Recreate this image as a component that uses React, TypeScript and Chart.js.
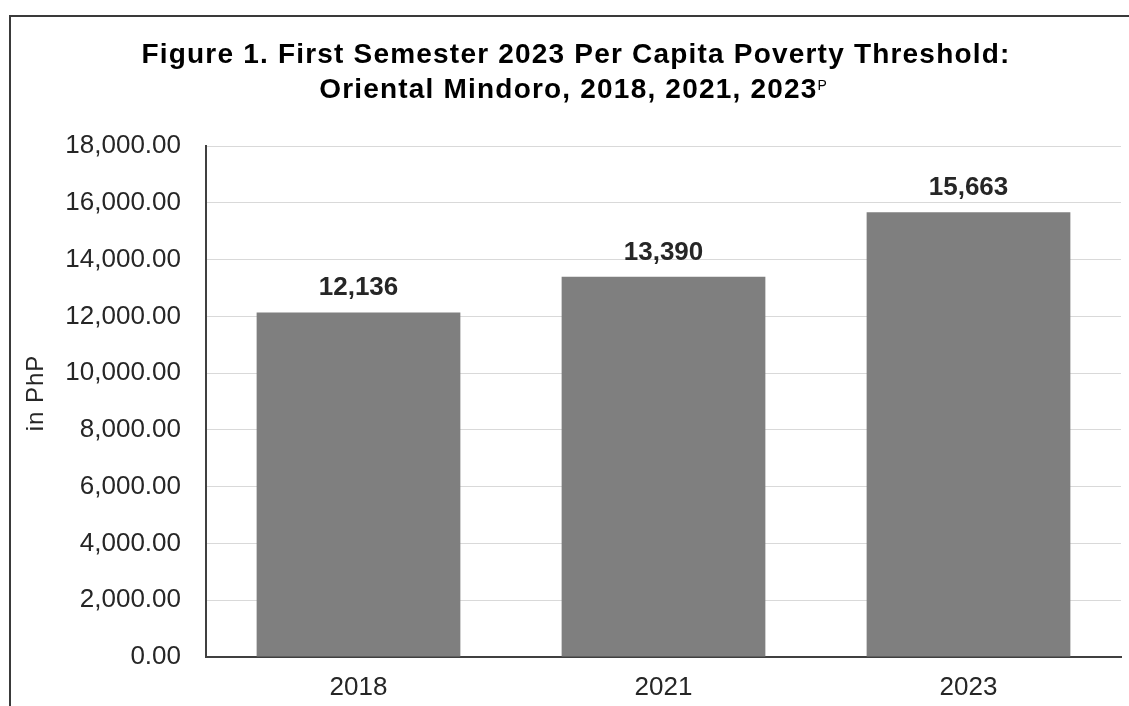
import React, { useEffect, useRef } from "react";
import { Chart, registerables } from "chart.js";

Chart.register(...registerables);

const titleLines = [
  "Figure 1. First Semester 2023 Per Capita Poverty Threshold:",
  "Oriental Mindoro, 2018, 2021, 2023",
];
const titleSuperscript = "P";
const categories = ["2018", "2021", "2023"];
const values = [12136, 13390, 15663];
const yAxisTitle = "in PhP";
const yMin = 0;
const yMax = 18000;
const yStep = 2000;

const FONT = "'Liberation Sans', Arial, sans-serif";
const TEXT = "#262626";

const titlePlugin = {
  id: "customTitle",
  afterDraw(chart: any) {
    const ctx = chart.ctx;
    ctx.save();
    ctx.fillStyle = "#000000";
    ctx.textBaseline = "alphabetic";
    ctx.textAlign = "left";
    const cx = 576;
    ctx.font = `bold 28px ${FONT}`;
    (ctx as any).letterSpacing = "1.2px";
    const w1 = ctx.measureText(titleLines[0]).width;
    ctx.fillText(titleLines[0], cx - w1 / 2, 63);
    const w2 = ctx.measureText(titleLines[1]).width;
    (ctx as any).letterSpacing = "0px";
    ctx.font = `14px ${FONT}`;
    const ws = ctx.measureText(titleSuperscript).width;
    const start = cx - 3 - (w2 + ws) / 2;
    ctx.font = `bold 28px ${FONT}`;
    (ctx as any).letterSpacing = "1.2px";
    ctx.fillText(titleLines[1], start, 98);
    (ctx as any).letterSpacing = "0px";
    ctx.font = `14px ${FONT}`;
    ctx.fillText(titleSuperscript, start + w2, 90);

    // y axis title
    ctx.save();
    ctx.translate(43, 393);
    ctx.rotate(-Math.PI / 2);
    ctx.font = `24px ${FONT}`;
    (ctx as any).letterSpacing = "1px";
    ctx.fillStyle = TEXT;
    ctx.textAlign = "left";
    ctx.textBaseline = "alphabetic";
    const wy = ctx.measureText(yAxisTitle).width;
    ctx.fillText(yAxisTitle, -wy / 2, 0);
    ctx.restore();
    ctx.restore();
  },
};

const labelPlugin = {
  id: "valueLabels",
  afterDatasetsDraw(chart: any) {
    const ctx = chart.ctx;
    const meta = chart.getDatasetMeta(0);
    ctx.save();
    ctx.font = `bold 26px ${FONT}`;
    ctx.fillStyle = TEXT;
    ctx.textAlign = "center";
    ctx.textBaseline = "alphabetic";
    meta.data.forEach((bar: any, i: number) => {
      const v = chart.data.datasets[0].data[i] as number;
      ctx.fillText(v.toLocaleString("en-US"), bar.x, bar.y - 17);
    });
    ctx.restore();
  },
};

export default function App() {
  const ref = useRef<HTMLCanvasElement | null>(null);
  useEffect(() => {
    if (!ref.current) return;
    const chart = new Chart(ref.current, {
      type: "bar",
      data: {
        labels: categories,
        datasets: [
          {
            data: values,
            backgroundColor: "#7f7f7f",
            borderWidth: 0,
            categoryPercentage: 1,
            barPercentage: 0.668,
          },
        ],
      },
      options: {
        animation: false,
        responsive: false,
        maintainAspectRatio: false,
        layout: { padding: { left: 10, right: 8, top: 146, bottom: 0 } },
        plugins: {
          legend: { display: false },
          title: { display: false },
          tooltip: { enabled: false },
        },
        scales: {
          x: {
            grid: { display: false, drawTicks: false },
            border: { display: true, color: "#404040", width: 2 },
            ticks: {
              color: TEXT,
              font: { family: FONT, size: 26 },
              padding: 15,
            },
            afterFit: (s: any) => {
              s.height = 49;
            },
          },
          y: {
            min: yMin,
            max: yMax,
            ticks: {
              stepSize: yStep,
              color: TEXT,
              font: { family: FONT, size: 26 },
              padding: 25,
              callback: (v: any) =>
                Number(v).toLocaleString("en-US", {
                  minimumFractionDigits: 2,
                  maximumFractionDigits: 2,
                }),
            },
            grid: { color: "#d9d9d9", lineWidth: 1, drawTicks: false },
            border: { display: true, color: "#404040", width: 2 },
            title: { display: false },
            afterFit: (s: any) => {
              s.width = 196;
            },
          },
        },
      },
      plugins: [titlePlugin, labelPlugin],
    });
    return () => chart.destroy();
  }, []);
  return (
    <div style={{ position: "fixed", left: 0, top: 0, width: 1129, height: 706, background: "#fff" }}>
      <canvas ref={ref} width={1129} height={706} style={{ position: "absolute", left: 0, top: 0 }} />
      <div
        style={{
          position: "absolute",
          left: 9,
          top: 15,
          right: 0,
          bottom: -10,
          borderTop: "2px solid #3a3a3a",
          borderLeft: "2px solid #3a3a3a",
          pointerEvents: "none",
        }}
      />
    </div>
  );
}
